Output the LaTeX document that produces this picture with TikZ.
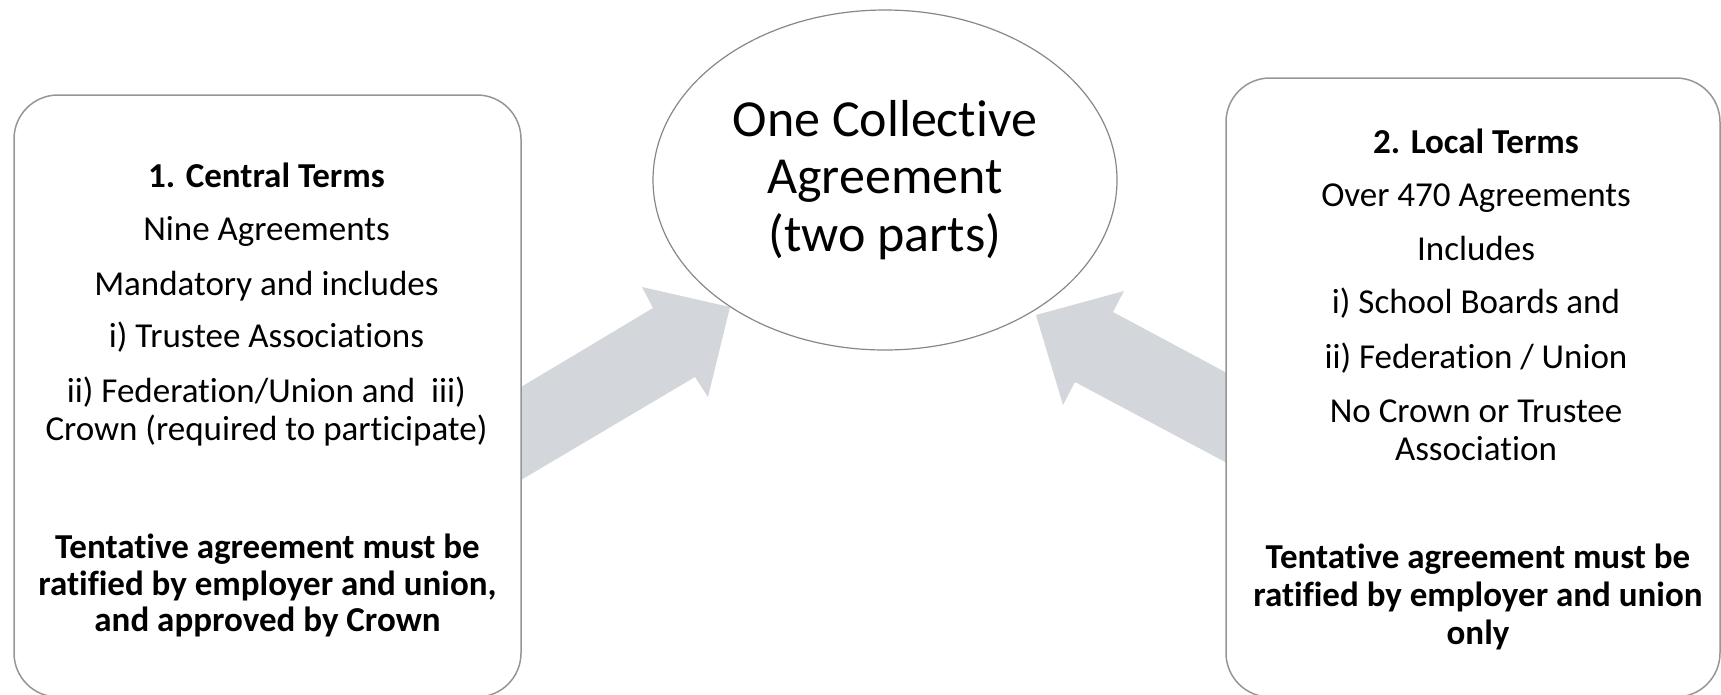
\documentclass[tikz,border=0pt]{standalone}
\usepackage{fontspec}
\setmainfont{Carlito}[Ligatures=NoCommon]
\usetikzlibrary{shapes.geometric}
\definecolor{arrowgray}{RGB}{211,214,218}
\definecolor{edgegray}{RGB}{150,150,150}
\begin{document}
\begin{tikzpicture}[x=1pt,y=-1pt,
  boxnode/.style={draw=edgegray,line width=1.5pt,fill=white,rounded corners=44pt,inner sep=0pt},
  ln/.style={anchor=base,inner sep=0pt,font=\fontsize{35}{38}\selectfont},
  bln/.style={ln,font=\fontsize{35}{38}\selectfont\bfseries},
  bigarrow/.style={fill=arrowgray,draw=none}]
\useasboundingbox (0,0) rectangle (1721,694);
% arrows
\fill[bigarrow] (521,480) -- (695,377) -- (708,397) -- (730,307) -- (642,287) -- (653,308) -- (521,387) -- cycle;
\fill[bigarrow] (1227,463) -- (1075,382) -- (1063,405) -- (1036,315) -- (1124,291) -- (1113,312) -- (1227,373) -- cycle;
% central ellipse
\node[ellipse,draw=edgegray!90!black,line width=1.2pt,minimum width=464pt,minimum height=340pt,inner sep=0pt,
  align=center,font=\fontsize{52}{57.5}\selectfont] (center) at (885,180)
  {One Collective\\Agreement\\(two parts)};
% boxes
\node[boxnode,minimum width=507pt,minimum height=602pt] (lbox) at (267.5,396) {};
\node[boxnode,minimum width=494pt,minimum height=619pt] (rbox) at (1473,387.5) {};
% left text
\node[bln] (l1) at (266.5,187) {1. Central Terms};
\node[ln] (l2) at (266.5,240) {Nine Agreements};
\node[ln] (l3) at (266.5,295) {Mandatory and includes};
\node[ln] (l4) at (266.5,347) {i) Trustee Associations};
\node[ln] (l5) at (266.5,402) {ii) Federation/Union and\ \ iii)};
\node[ln] (l6) at (266.5,440) {Crown (required to participate)};
\node[bln] (l7) at (267.5,558) {Tentative agreement must be};
\node[bln] (l8) at (267.5,595) {ratified by employer and union,};
\node[bln] (l9) at (267.5,631) {and approved by Crown};
% right text
\node[bln] (r1) at (1476,153) {2. Local Terms};
\node[ln] (r2) at (1476,206) {Over 470 Agreements};
\node[ln] (r3) at (1476,260) {Includes};
\node[ln] (r4) at (1476,313) {i) School Boards and};
\node[ln] (r5) at (1476,368) {ii) Federation / Union};
\node[ln] (r6) at (1476,422) {No Crown or Trustee};
\node[ln] (r7) at (1476,460) {Association};
\node[bln] (r8) at (1478,568) {Tentative agreement must be};
\node[bln] (r9) at (1478,606) {ratified by employer and union};
\node[bln] (r10) at (1478,644) {only};
\end{tikzpicture}
\end{document}
